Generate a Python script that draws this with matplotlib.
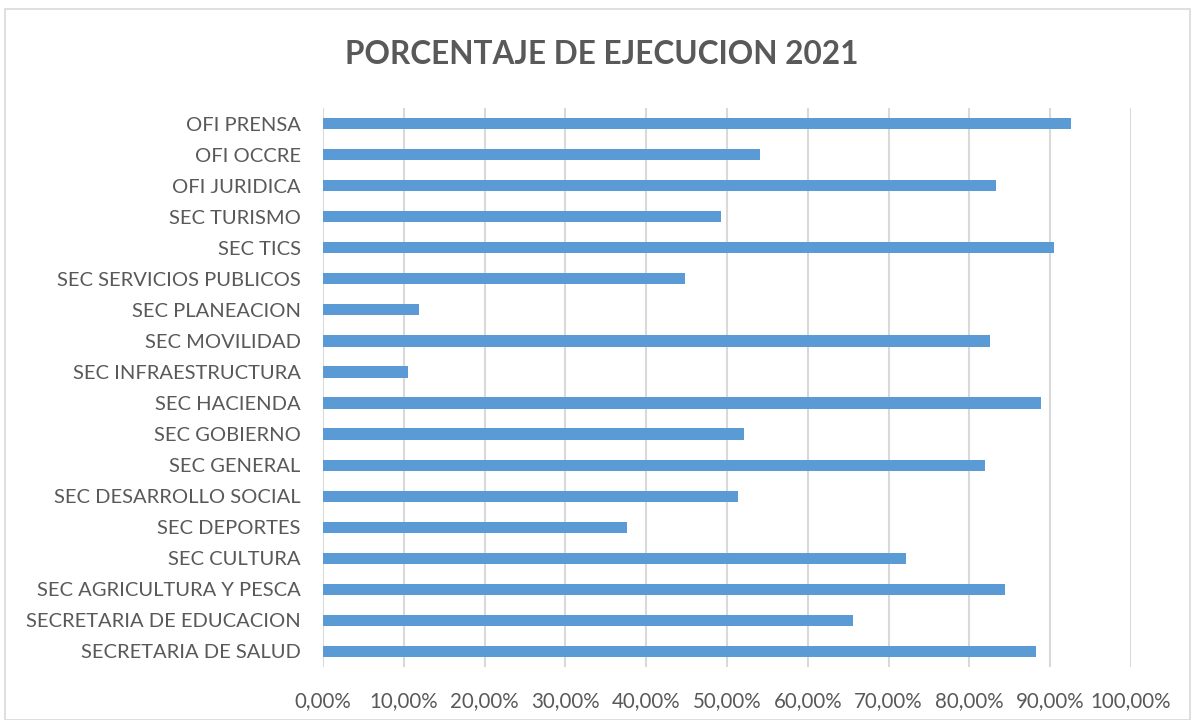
import matplotlib
matplotlib.use("Agg")
import matplotlib.pyplot as plt
from matplotlib.ticker import FuncFormatter, MultipleLocator
from matplotlib.patches import Rectangle

categories = [
    "SECRETARIA DE SALUD", "SECRETARIA DE EDUCACION", "SEC AGRICULTURA Y PESCA",
    "SEC CULTURA", "SEC DEPORTES", "SEC DESARROLLO SOCIAL", "SEC GENERAL",
    "SEC GOBIERNO", "SEC HACIENDA", "SEC INFRAESTRUCTURA", "SEC MOVILIDAD",
    "SEC PLANEACION", "SEC SERVICIOS PUBLICOS", "SEC TICS", "SEC TURISMO",
    "OFI JURIDICA", "OFI OCCRE", "OFI PRENSA",
]
values = [
    0.8818, 0.656, 0.8438, 0.721, 0.376, 0.514, 0.8187,
    0.521, 0.8884, 0.1056, 0.8257, 0.1193, 0.4477, 0.9041, 0.4927,
    0.8327, 0.541, 0.9256,
]
title = "PORCENTAJE DE EJECUCION 2021"

plt.rcParams['font.family'] = ['Lato', 'DejaVu Sans']
text_color = "#595959"
bar_color = "#5B9BD5"
grid_color = "#D9D9D9"

fig = plt.figure(figsize=(11.97, 7.2), dpi=100)
ax = fig.add_axes([0.2698, 0.0736, 0.9449 - 0.2698, 0.85 - 0.0736])

y = range(len(categories))
ax.barh(list(y), values, height=0.36, color=bar_color, zorder=3)
ax.set_ylim(-0.5, len(categories) - 0.5)
ax.set_xlim(0, 1.0)
ax.set_yticks(list(y))
ax.set_yticklabels(categories, fontsize=14.5, color=text_color)
ax.xaxis.set_major_locator(MultipleLocator(0.1))
ax.xaxis.set_major_formatter(FuncFormatter(lambda v, p: f"{v*100:.2f}%".replace(".", ",")))
ax.tick_params(axis='x', labelsize=14.8, labelcolor=text_color, length=0, pad=17)
ax.tick_params(axis='y', length=0, pad=16)
ax.grid(axis='x', color=grid_color, linewidth=1.5, zorder=0)
for s in ax.spines.values():
    s.set_visible(False)

fig.text(0.503, 0.925, title, ha='center', va='center', fontsize=22.7,
         fontweight='bold', color=text_color)

fig.patches.append(Rectangle((0.004, 0.0), 0.99, 0.987, transform=fig.transFigure,
                             fill=False, edgecolor=grid_color, linewidth=1.2))

fig.savefig("out.png", dpi=100)
